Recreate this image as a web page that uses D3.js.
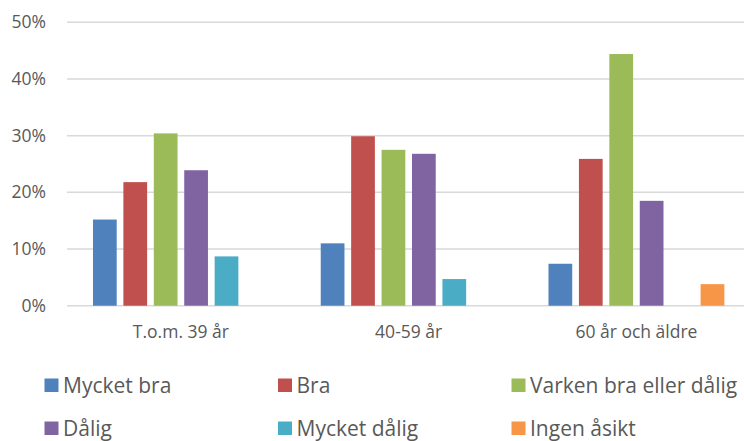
<!DOCTYPE html>
<html>
<head>
<meta charset="utf-8">
<script src="https://d3js.org/d3.v7.min.js"></script>
<style>
  body { margin: 0; background: #fff; }
  svg text { font-family: "Open Sans", sans-serif; fill: #595959; }
</style>
</head>
<body>
<div id="my_dataviz"></div>
<script>

// age groups on the x axis
var categories = ["T.o.m. 39 år", "40-59 år", "60 år och äldre"]

// answer series, one value per age group (share of respondents)
var series = ["Mycket bra", "Bra", "Varken bra eller dålig", "Dålig", "Mycket dålig", "Ingen åsikt"]
var mycketBra   = [0.152, 0.110, 0.074]
var bra         = [0.218, 0.299, 0.259]
var varken      = [0.304, 0.275, 0.444]
var dalig       = [0.239, 0.268, 0.185]
var mycketDalig = [0.087, 0.047, 0]
var ingenAsikt  = [0, 0, 0.038]

var yTicks = [0, 0.1, 0.2, 0.3, 0.4, 0.5]
var colors = ["#4F81BD", "#C0504D", "#9BBB59", "#8064A2", "#4BACC6", "#F79646"]

var values = [mycketBra, bra, varken, dalig, mycketDalig, ingenAsikt]

var width = 744, height = 441

var svg = d3.select("#my_dataviz")
  .append("svg")
    .attr("width", width)
    .attr("height", height)

// scales: the plot area runs off the right edge like in the original
var x0 = d3.scaleBand()
  .domain(categories)
  .range([67, 750.3])
  .paddingInner(0.228)
  .paddingOuter(0.114)

var x1 = d3.scaleBand()
  .domain(series)
  .range([0, x0.bandwidth()])
  .paddingInner(0.22)

var y = d3.scaleLinear()
  .domain([0, 0.5])
  .range([305.7, 22.3])

// gridlines
svg.selectAll(".grid")
  .data(yTicks)
  .enter()
  .append("line")
    .attr("x1", 67)
    .attr("x2", width)
    .attr("y1", function(d){ return y(d) })
    .attr("y2", function(d){ return y(d) })
    .attr("stroke", "#d9d9d9")
    .attr("stroke-width", 1.5)

// y axis labels
var yAxis = d3.axisLeft(y)
  .tickValues(yTicks)
  .tickFormat(d3.format(".0%"))
  .tickSize(0)
  .tickPadding(0)

svg.append("g")
  .attr("transform", "translate(46,0)")
  .call(yAxis)
  .call(function(g){ g.select(".domain").remove() })
  .selectAll("text")
    .style("font-size", "17.5px")
    .style("font-family", "Open Sans")
    .attr("fill", "#595959")

// bars
var groups = svg.selectAll(".group")
  .data(categories)
  .enter()
  .append("g")
    .attr("transform", function(d){ return "translate(" + x0(d) + ",0)" })

groups.selectAll("rect")
  .data(function(c, i){
    return series.map(function(s, j){ return {key: s, value: values[j][i], color: colors[j]} })
  })
  .enter()
  .append("rect")
    .filter(function(d){ return d.value > 0 })
    .attr("x", function(d){ return x1(d.key) })
    .attr("width", x1.bandwidth())
    .attr("y", function(d){ return y(d.value) })
    .attr("height", function(d){ return y(0) - y(d.value) })
    .attr("fill", function(d){ return d.color })

// category labels
var xAxis = d3.axisBottom(x0).tickSize(0).tickPadding(0)

svg.append("g")
  .attr("transform", "translate(0,326)")
  .call(xAxis)
  .call(function(g){ g.select(".domain").remove() })
  .selectAll("text")
    .style("font-size", "17.5px")
    .style("font-family", "Open Sans")
    .attr("fill", "#595959")

// legend, 3 columns x 2 rows
var legend = svg.selectAll(".legend")
  .data(series)
  .enter()
  .append("g")
    .attr("transform", function(d, i){
      return "translate(" + (44.5 + (i % 3) * 233.5) + "," + (378.5 + Math.floor(i / 3) * 43) + ")"
    })

legend.append("rect")
  .attr("width", 14)
  .attr("height", 13.5)
  .attr("fill", function(d, i){ return colors[i] })

legend.append("text")
  .attr("x", 18.5)
  .attr("y", 14)
  .style("font-size", "21px")
  .text(function(d){ return d })

</script>
</body>
</html>
